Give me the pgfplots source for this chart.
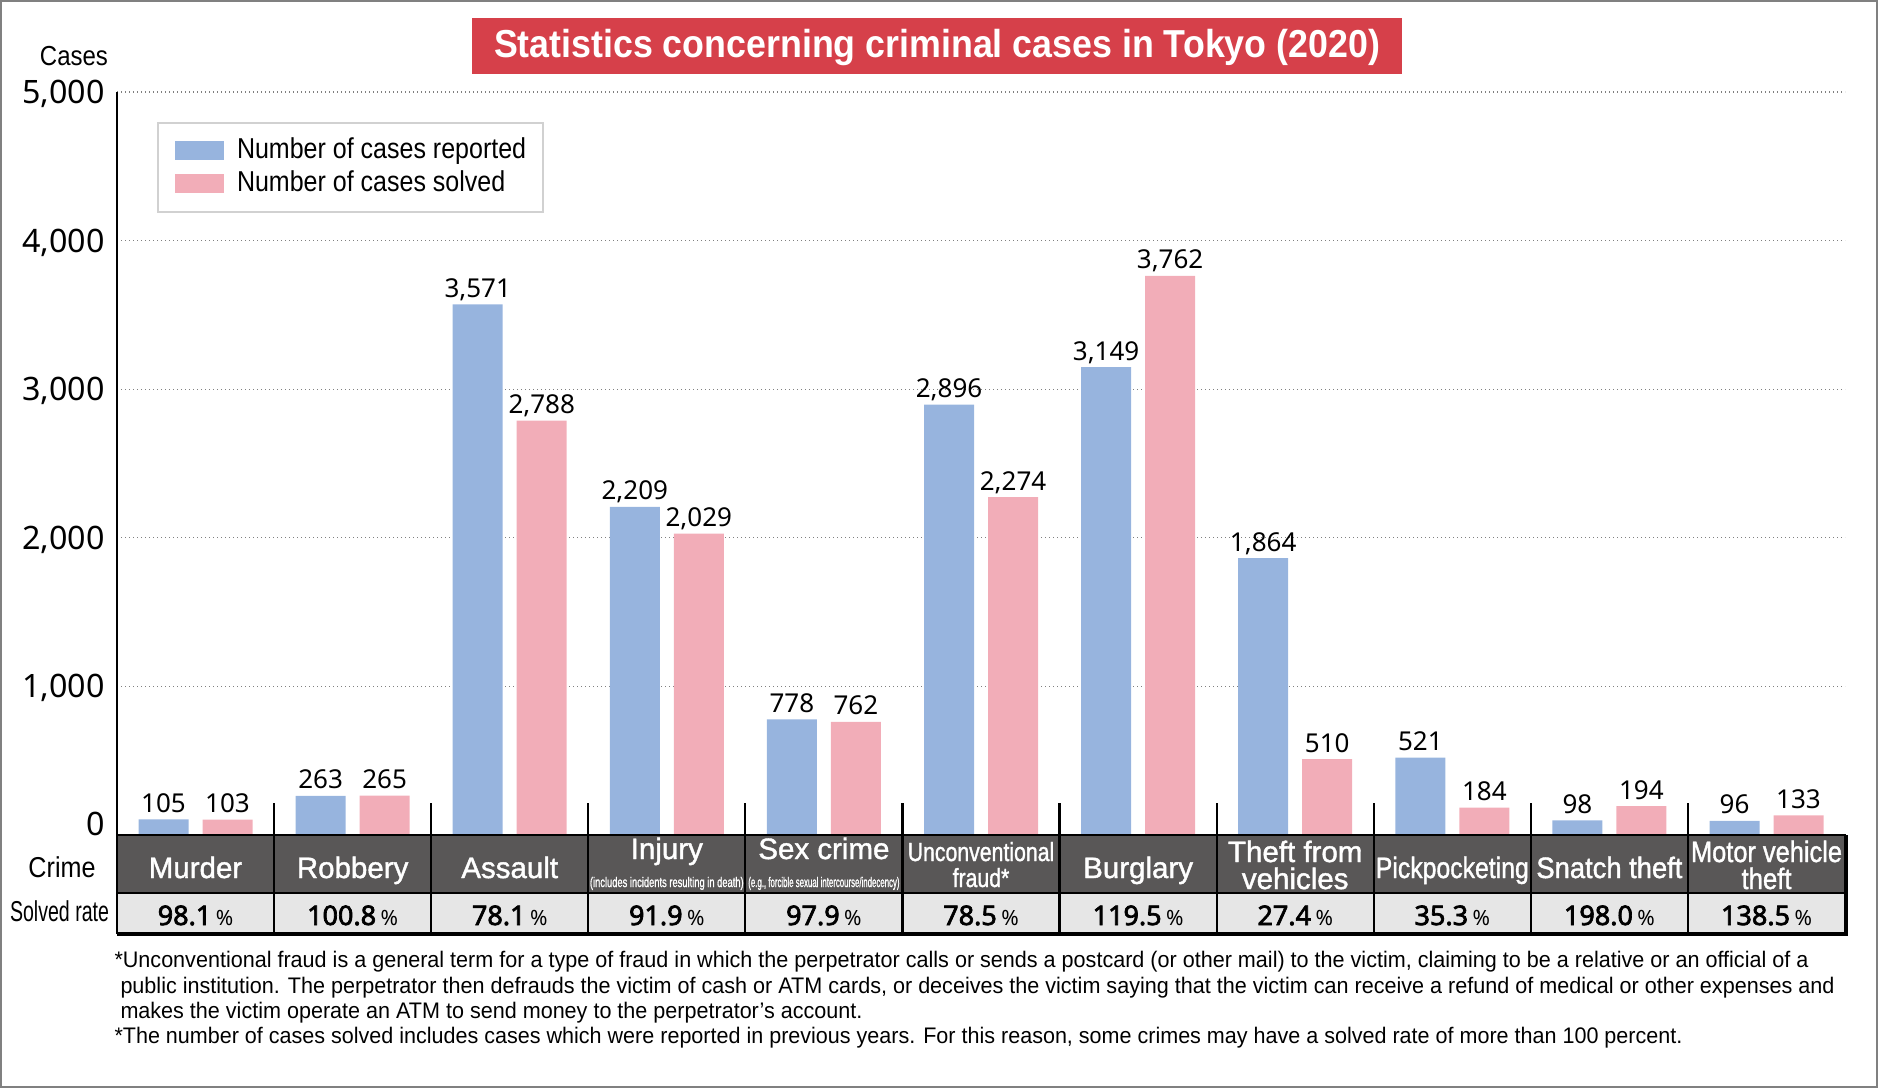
\documentclass[border=0pt]{standalone}
\usepackage{fontspec}
\setmainfont{Liberation Sans}
\newfontfamily\notosans{Noto Sans}
\newfontfamily\ratefont[FakeBold=2.6]{Noto Sans}
\newfontfamily\crimefam[FakeBold=1.4]{Liberation Sans}
\newfontfamily\condfont[FakeStretch=0.87]{Liberation Sans}
\usepackage{graphicx}
\usepackage{pgfplots}
\pgfplotsset{compat=1.18}

\definecolor{barblue}{RGB}{151,180,222}
\definecolor{barpink}{RGB}{242,173,184}
\definecolor{titlered}{RGB}{214,64,74}
\definecolor{rowdark}{RGB}{89,87,87}
\definecolor{rowlight}{RGB}{230,230,230}
\definecolor{framegray}{RGB}{128,128,128}

\newsavebox\fitbox
\newcommand\fitto[2]{\sbox\fitbox{#2}\pgfmathsetmacro\fitsf{(#1)/(\the\wd\fitbox)}\scalebox{\fitsf}[1]{\usebox\fitbox}}

\newcommand\crimefont{\crimefam\fontsize{11.8}{13}\selectfont}
\newcommand\rate[1]{{\ratefont\fontsize{10.8}{12}\selectfont #1\hspace{1.8pt}{\notosans\fontsize{8.4}{9}\selectfont\%}}}

\begin{document}
\begin{tikzpicture}
\begin{axis}[
  at={(46.8pt,-334pt)}, anchor=south west,
  width=691.2pt, height=297.2pt, scale only axis,
  xmin=-0.5, xmax=10.5, ymin=0, ymax=5000,
  clip=false,
  axis x line=none, axis y line*=left,
  axis line style={line width=0.9pt, black},
  /pgf/number format/.cd, 1000 sep={,}, assume math mode=true, /pgfplots/.cd,
  ytick={1000,2000,3000,4000,5000},
  extra y ticks={0}, extra y tick labels={0},
  extra y tick style={grid=none, yticklabel style={yshift=4.4pt}},
  ymajorgrids,
  major grid style={color=framegray, line width=0.5pt, dash pattern=on 0.5pt off 1.1pt},
  major tick length=0pt,
  yticklabel style={font=\notosans\fontsize{12.9}{14}\selectfont, anchor=base east, inner sep=0pt, xshift=-4.8pt, yshift=-4.6pt},
  xtick=\empty,
  ybar,
  bar width=20pt,
  nodes near coords,
  every node near coord/.append style={font=\notosans\fontsize{10.4}{12}\selectfont, anchor=base, inner sep=0pt, yshift=2.8pt, black},
  legend cell align=left,
  legend style={at={(0.02315,0.9596)}, anchor=north west, draw=black!18, line width=0.8pt, fill=white,
    inner xsep=6.8pt, inner ysep=5.7pt, row sep=2.2pt,
    font=\condfont\fontsize{11.5}{13}\selectfont,
    nodes={inner sep=0pt, text height=8.5pt, text depth=2.5pt},
    /tikz/every odd column/.append style={column sep=5.2pt}},
  legend image code/.code={\fill[#1] (0pt,-3.4pt) rectangle (19.6pt,4.2pt);},
]
\addplot[fill=barblue, draw=none, bar shift=-12.8pt] coordinates {
  (0,105) (1,263) (2,3571) (3,2209) (4,778) (5,2896) (6,3149) (7,1864) (8,521) (9,98) (10,96)};
\addplot[fill=barpink, draw=none, bar shift=12.8pt] coordinates {
  (0,103) (1,265) (2,2788) (3,2029) (4,762) (5,2274) (6,3762) (7,510) (8,184) (9,194) (10,133)};
\legend{Number of cases reported, Number of cases solved}
\end{axis}

\begin{scope}[x=0.4pt, y=-0.4pt]
  % outer frame
  \draw[framegray, line width=0.8pt] (1,1) rectangle (1877,1087);
  % title
  \fill[titlered] (472,18) rectangle (1402,74);
  \node[anchor=base, white, inner sep=0pt] at (937,57) {\bfseries\fontsize{15.6}{18}\selectfont\fitto{354.4pt}{Statistics concerning criminal cases in Tokyo (2020)}};
  % Cases
  \node[anchor=base, inner sep=0pt] at (74,65) {\fontsize{11}{13}\selectfont\fitto{27.2pt}{Cases}};
  % table
  \fill[rowdark] (117,835) rectangle (1845,893);
  \fill[rowlight] (117,893) rectangle (1845,933);
  \draw[line width=0.9pt] (117,835) rectangle (1845,933);
  \draw[line width=0.9pt] (117,893) -- (1845,893);
  \draw[line width=1.3pt] (117,934) -- (1846,934) -- (1846,835);
  \foreach \k in {1,...,10} {\draw[line width=0.9pt] ({117+157.09*\k},803) -- ({117+157.09*\k},933);}
  % row headings
  \node[anchor=base, inner sep=0pt] at (62,877) {\fontsize{11.5}{13}\selectfont\fitto{26.8pt}{Crime}};
  \node[anchor=base, inner sep=0pt] at (59.5,921) {\fontsize{11.5}{13}\selectfont\fitto{39.6pt}{Solved rate}};
  % crime names
  \begin{scope}[every node/.style={anchor=base, inner sep=0pt, white, font=\crimefont}]
    \node at (195.5,878) {Murder};
    \node at (352.6,878) {Robbery};
    \node at (509.7,878) {Assault};
    \node at (666.8,859) {Injury};
    \node at (666.8,887) {\crimefam\fontsize{5.6}{6}\selectfont\fitto{61.5pt}{(includes incidents resulting in death)}};
    \node at (823.9,859) {Sex crime};
    \node at (823.9,887) {\crimefam\fontsize{5.6}{6}\selectfont\fitto{60.5pt}{(e.g., forcible sexual intercourse/indecency)}};
    \node at (981.0,861) {\fontsize{10.5}{12}\selectfont\scalebox{0.81}[1]{Unconventional}};
    \node at (981.0,887) {\fontsize{10.5}{12}\selectfont\scalebox{0.81}[1]{fraud*}};
    \node at (1138.1,878) {Burglary};
    \node at (1295.2,862) {Theft from};
    \node at (1295.2,889) {vehicles};
    \node at (1452.3,878) {\fitto{61.2pt}{Pickpocketing}};
    \node at (1609.4,878) {\fitto{58.4pt}{Snatch theft}};
    \node at (1766.5,862) {\fitto{60.4pt}{Motor vehicle}};
    \node at (1766.5,889) {\scalebox{0.87}[1]{theft}};
  \end{scope}
  % solved rates
  \begin{scope}[every node/.style={anchor=base, inner sep=0pt, black}]
    \node at (195.5,925) {\rate{98.1}};
    \node at (352.6,925) {\rate{100.8}};
    \node at (509.7,925) {\rate{78.1}};
    \node at (666.8,925) {\rate{91.9}};
    \node at (823.9,925) {\rate{97.9}};
    \node at (981.0,925) {\rate{78.5}};
    \node at (1138.1,925) {\rate{119.5}};
    \node at (1295.2,925) {\rate{27.4}};
    \node at (1452.3,925) {\rate{35.3}};
    \node at (1609.4,925) {\rate{198.0}};
    \node at (1766.5,925) {\rate{138.5}};
  \end{scope}
  % footnotes
  \begin{scope}[every node/.style={anchor=base west, inner sep=0pt, black, font=\fontsize{9}{10}\selectfont}]
    \node at (114,967) {\fitto{677.6pt}{*Unconventional fraud is a general term for a type of fraud in which the perpetrator calls or sends a postcard (or other mail) to the victim, claiming to be a relative or an official of a}};
    \node at (120,993) {\fitto{685.6pt}{public institution. The perpetrator then defrauds the victim of cash or ATM cards, or deceives the victim saying that the victim can receive a refund of medical or other expenses and}};
    \node at (120,1018) {\fitto{296.8pt}{makes the victim operate an ATM to send money to the perpetrator’s account.}};
    \node at (114,1043) {\fitto{627.2pt}{*The number of cases solved includes cases which were reported in previous years. For this reason, some crimes may have a solved rate of more than 100 percent.}};
  \end{scope}
  \pgfresetboundingbox
  \path[use as bounding box] (0,0) rectangle (1878,1088);
\end{scope}
\end{tikzpicture}
\end{document}
